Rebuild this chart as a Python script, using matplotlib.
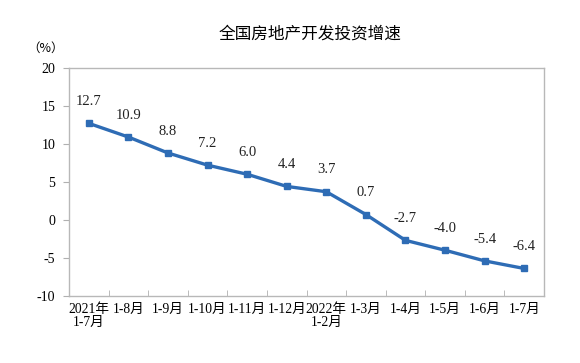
import matplotlib.pyplot as plt
import numpy as np

plt.rcParams['font.family'] = ['Liberation Serif', 'Noto Sans CJK SC']

months = ['2021年\n1-7月', '1-8月', '1-9月', '1-10月', '1-11月', '1-12月',
          '2022年\n1-2月', '1-3月', '1-4月', '1-5月', '1-6月', '1-7月']
growth = [12.7, 10.9, 8.8, 7.2, 6.0, 4.4, 3.7, 0.7, -2.7, -4.0, -5.4, -6.4]
yticks = [-10, -5, 0, 5, 10, 15, 20]

fig = plt.figure(figsize=(5.8, 3.63), dpi=100)
ax = fig.add_axes([0.119, 0.185, 0.819, 0.628])

x = np.arange(len(months))
ax.plot(x, growth, color='#2e6cb5', lw=2.4, marker='s', ms=4.5)

for xi, v in zip(x, growth):
    ax.annotate(f'{v:.1f}', (xi, v), xytext=(0, 11), textcoords='offset points',
                ha='center', va='bottom', fontsize=10.5, color='#222222')

ax.set_xlim(-0.5, len(months) - 0.5)
ax.set_ylim(-10, 20)
ax.set_yticks(yticks)
ax.set_yticklabels([str(t) for t in yticks], fontsize=10)
ax.set_xticks(x)
ax.set_xticklabels(months, fontsize=9.8, linespacing=1.05, va='top')
ax.tick_params(axis='x', which='major', length=0, pad=5)
ax.set_xticks(np.arange(0.5, len(months) - 0.5, 1), minor=True)
ax.tick_params(axis='x', which='minor', direction='in', length=4, color='#b0b0b0')
ax.tick_params(axis='y', direction='out', length=4, color='#b0b0b0', pad=6)

for s in ax.spines.values():
    s.set_color('#b8b8b8')
    s.set_linewidth(1)

fig.text(0.535, 0.905, '全国房地产开发投资增速', ha='center', va='center',
         fontsize=12, family='Noto Sans CJK SC', weight='medium')
fig.text(0.078, 0.868, '（%）', ha='center', va='center', fontsize=9,
         family=['Noto Sans CJK SC'])

fig.savefig('out.png', dpi=100)
